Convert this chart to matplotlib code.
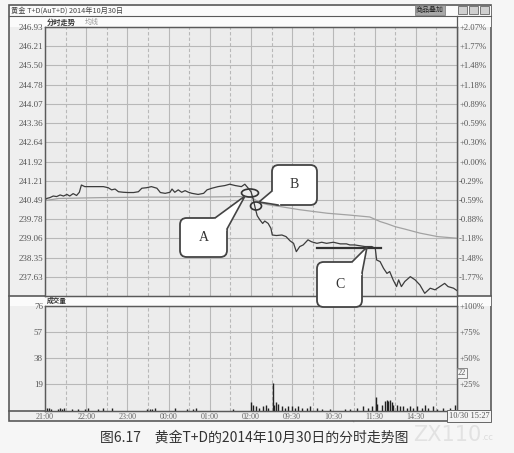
import matplotlib
matplotlib.use('Agg')
import matplotlib.pyplot as plt
from matplotlib.patches import FancyBboxPatch, Ellipse, Polygon, Rectangle
from matplotlib.lines import Line2D
import numpy as np

plt.rcParams['font.family'] = ['Noto Sans CJK SC', 'DejaVu Sans']

# ---------------- data ----------------
# trading minute index from 21:00 (night 21:00-02:30, day 09:00-11:30, 13:30-15:30)
time_ticks = [0, 60, 120, 180, 240, 300, 360, 420, 480, 540]
time_labels = ['21:00', '22:00', '23:00', '00:00', '01:00', '02:00',
               '09:30', '10:30', '11:30', '14:30']

price_ticks = [246.93, 246.21, 245.50, 244.78, 244.07, 243.36, 242.64,
               241.92, 241.21, 240.49, 239.78, 239.06, 238.35, 237.63]
pct_labels = ['+2.07%', '+1.77%', '+1.48%', '+1.18%', '+0.89%', '+0.59%', '+0.30%',
              '+0.00%', '-0.29%', '-0.59%', '-0.88%', '-1.18%', '-1.48%', '-1.77%']
price_min, price_max = 236.92, 246.93

price_t = [0, 2.5, 7, 12, 17, 22, 27, 32, 36, 41, 46, 50, 53, 58, 66, 75, 85, 92, 97,
           102, 107, 114, 121, 129, 136, 141, 148, 155, 163, 168, 175, 182, 185, 189,
           194, 199, 204, 209, 214, 223, 231, 236, 243, 252, 262, 269, 277, 286, 291,
           296, 300, 303, 306, 309, 313, 317, 320, 325, 329, 331, 337, 345, 351, 357,
           362, 366, 371, 376, 383, 388, 396, 403, 410, 420, 430, 439, 444, 451, 466,
           476, 481, 483, 488, 493, 498, 502, 507, 512, 515, 519, 524, 532, 539, 546,
           553, 561, 568, 575, 582, 587, 595, 600]
price_v = [240.50, 240.55, 240.58, 240.64, 240.62, 240.68, 240.64, 240.70, 240.64,
           240.73, 240.66, 240.78, 241.05, 240.99, 240.99, 240.99, 240.99, 240.95,
           240.87, 240.90, 240.80, 240.78, 240.77, 240.77, 240.80, 240.93, 240.95,
           240.99, 240.93, 240.77, 240.74, 240.78, 240.90, 240.78, 240.87, 240.78,
           240.84, 240.78, 240.74, 240.70, 240.74, 240.87, 240.93, 240.99, 241.03,
           241.08, 241.03, 240.99, 241.08, 240.93, 240.80, 240.55, 240.21, 239.91,
           239.75, 239.62, 239.71, 239.62, 239.44, 239.19, 239.17, 239.19, 239.13,
           238.97, 238.88, 238.57, 238.76, 238.82, 239.01, 238.94, 238.88, 238.92,
           238.88, 238.92, 238.86, 238.86, 238.82, 238.82, 238.76, 238.76, 238.69,
           238.26, 238.20, 237.95, 237.76, 237.83, 237.52, 237.27, 237.52, 237.27,
           237.46, 237.64, 237.52, 237.33, 237.02, 237.21, 237.15, 237.27, 237.39,
           237.27, 237.21, 237.12]

avg_t = [0, 20, 80, 150, 220, 290, 300, 306, 313, 324, 342, 371, 411, 444, 473,
         488, 498, 510, 524, 546, 572, 600]
avg_v = [240.47, 240.55, 240.58, 240.60, 240.60, 240.62, 240.60, 240.50, 240.40,
         240.32, 240.25, 240.13, 240.00, 239.93, 239.86, 239.69, 239.61, 239.50,
         239.41, 239.26, 239.13, 239.07]

c_line_t = [396, 490]
c_line_v = [238.72, 238.72]

vol_ticks = [19, 38, 57, 76]
vol_left_labels = ['19', '38', '57', '76']
vol_right_labels = ['+25%', '+50%', '+75%', '+100%']
vol_t = [3, 6, 9, 19, 22, 25, 28, 39, 48, 58, 63, 77, 84, 98, 149, 153, 156, 160,
         189, 207, 216, 220, 274, 300, 303, 307, 312, 317, 322, 325, 331.6, 333.5,
         336, 339, 345, 350, 354, 360, 364, 368, 374, 381, 386, 396, 403, 415, 437,
         444, 454, 463, 470, 476, 482, 483, 491, 495, 498, 500, 502, 505, 507, 513,
         517, 521, 527, 532, 536, 542, 549, 553, 558, 565, 571, 580, 590, 597]
vol_v = [2, 2, 1, 1, 2, 1, 2, 1, 1, 1, 2, 1, 2, 2, 1, 1, 1, 2,
         2, 1, 1, 2, 1, 6, 4, 3, 2, 3, 4, 2, 20, 4,
         6, 5, 3, 2, 3, 3, 2, 3, 2, 2, 3, 2, 1, 1, 1,
         1, 2, 3, 2, 3, 10, 5, 4, 7, 8, 7, 8, 6, 4, 4,
         3, 3, 2, 3, 2, 3, 2, 4, 2, 3, 1, 2, 2, 4]

# ---------------- figure ----------------
W, H = 514, 453
fig = plt.figure(figsize=(W / 100, H / 100), dpi=100)
fig.patch.set_facecolor('#f6f6f6')


def fx(x):
    return x / W


def fy(y):
    return 1 - y / H


FR = '#5a5a5a'
GRID = '#b8b8b8'
TXT = '#555555'
SERIF = ['Liberation Serif', 'DejaVu Serif']

# outer chart frame
fig.patches.append(Rectangle((fx(9), fy(421)), fx(491) - fx(9), fy(5) - fy(421),
                             transform=fig.transFigure, fc='#efefef', ec=FR, lw=1.2, zorder=-2))
# title band and header bands
for (ya, yb) in [(5.5, 15.5), (16, 27), (296, 306)]:
    fig.patches.append(Rectangle((fx(9.5), fy(yb)), fx(490.5) - fx(9.5), fy(ya) - fy(yb),
                                 transform=fig.transFigure, fc='#fbfbfb', ec='none', zorder=-1))
for yy, lw in [(15.8, 0.8), (296, 1.2), (410.5, 1.2)]:
    fig.lines.append(Line2D([fx(9), fx(491)], [fy(yy), fy(yy)], transform=fig.transFigure,
                            color=FR, lw=lw, zorder=-0.5))
fig.lines.append(Line2D([fx(457), fx(457)], [fy(16), fy(410.5)], transform=fig.transFigure,
                        color=FR, lw=0.9, zorder=-0.5))

fig.text(fx(11), fy(10.5), '黄金 T+D(AuT+D) 2014年10月30日', fontsize=5.2, color='#444',
         va='center', ha='left')
fig.text(fx(47), fy(22), '分时走势', fontsize=5.2, color='#333', va='center', ha='left',
         fontweight='bold')
fig.text(fx(85), fy(22), '均线', fontsize=5, color='#999', va='center', ha='left')
fig.text(fx(47), fy(300.5), '成交量', fontsize=4.8, color='#333', va='center', ha='left',
         fontweight='bold')
fig.text(fx(430), fy(10), '商品叠加', fontsize=5, color='#222', va='center', ha='center',
         bbox=dict(boxstyle='square,pad=0.15', fc='#a8a8a8', ec='#777', lw=0.5))
for i in range(3):
    fig.patches.append(Rectangle((fx(458 + i * 11), fy(14)), fx(9), fy(6) - fy(14),
                                 transform=fig.transFigure, fc='#d0d0d0', ec='#666', lw=0.6))

# ---------------- price axes ----------------
ax = fig.add_axes([fx(45), fy(296), 412 / W, 269 / H])
ax.set_zorder(1)
ax.set_facecolor('#ececec')
ax.set_xlim(0, 600)
ax.set_ylim(price_min, price_max)
for t in range(30, 600, 30):
    ax.axvline(t, color=GRID, lw=0.8, ls='-' if t % 60 == 0 else (0, (3, 2)), zorder=1)
for p in price_ticks:
    ax.axhline(p, color=GRID, lw=0.8, zorder=1)
ax.plot(avg_t, avg_v, color='#a2a2a2', lw=0.9, zorder=3)
ax.plot(price_t, price_v, color='#3c3c3c', lw=0.9, zorder=4)
ax.plot(c_line_t, c_line_v, color='#333333', lw=1.6, zorder=5)
ax.set_xticks([])
ax.set_yticks(price_ticks)
ax.set_yticklabels([f'{p:.2f}' for p in price_ticks], fontsize=6.5, color=TXT,
                   family=SERIF)
ax.tick_params(axis='y', length=0, pad=1.5)
axr = ax.twinx()
axr.set_zorder(1.1)
axr.patch.set_visible(False)
axr.set_ylim(price_min, price_max)
axr.set_yticks(price_ticks)
axr.set_yticklabels(pct_labels, fontsize=6.2, color=TXT, family=SERIF)
axr.tick_params(axis='y', length=0, pad=1.5)
for a in (ax, axr):
    for s in a.spines.values():
        s.set_color(FR)
        s.set_linewidth(0.9)

# ---------------- volume axes ----------------
av = fig.add_axes([fx(45), fy(410.5), 412 / W, 104.5 / H])
av.set_zorder(1)
av.set_facecolor('#ececec')
av.set_xlim(0, 600)
av.set_ylim(0, 76)
for t in range(30, 600, 30):
    av.axvline(t, color=GRID, lw=0.8, ls='-' if t % 60 == 0 else (0, (3, 2)), zorder=1)
for v in vol_ticks:
    av.axhline(v, color=GRID, lw=0.8, zorder=1)
av.vlines(vol_t, 0, vol_v, color='#222222', lw=1.0, zorder=3)
av.set_yticks(vol_ticks)
av.set_yticklabels(vol_left_labels, fontsize=6.5, color=TXT, family=SERIF)
av.set_xticks(time_ticks)
av.set_xticklabels(time_labels, fontsize=5.8, color='#666', family=SERIF)
av.tick_params(axis='both', length=0, pad=1.5)
avr = av.twinx()
avr.set_zorder(1.1)
avr.patch.set_visible(False)
avr.set_ylim(0, 76)
avr.set_yticks(vol_ticks)
avr.set_yticklabels(vol_right_labels, fontsize=6.2, color=TXT, family=SERIF)
avr.tick_params(axis='y', length=0, pad=1.5)
for a in (av, avr):
    for s in a.spines.values():
        s.set_color(FR)
        s.set_linewidth(0.9)
av.text(451, -3.5, '、', fontsize=5, color='#666', ha='center', va='top')

fig.text(fx(462), fy(373), '22', fontsize=6, color='#555', ha='center', va='center',
         family=SERIF, bbox=dict(boxstyle='square,pad=0.15', fc='#f4f4f4', ec='#777', lw=0.6))
fig.text(fx(469), fy(416), '10/30 15:27', fontsize=6, color='#555', ha='center', va='center',
         family=SERIF, bbox=dict(boxstyle='square,pad=0.2', fc='#f4f4f4', ec='#666', lw=0.7))

# ---------------- callouts ----------------
EC = '#444444'


def bubble(x0, y0, x1, y1, b1, b2, tip, label):
    box = FancyBboxPatch((fx(x0), fy(y1)), fx(x1) - fx(x0), fy(y0) - fy(y1),
                         boxstyle='round,pad=0,rounding_size=0.013',
                         mutation_aspect=W / H,
                         transform=fig.transFigure, fc='white', ec=EC, lw=1.3, zorder=10)
    fig.patches.append(box)
    pts = []
    for b in (b1, b2):
        d = np.array(b) - np.array(tip)
        d = d / np.hypot(*d)
        pts.append(np.array(b) + d * 2.5)
    poly = [pts[0], b1, tip, b2, pts[1]]
    fig.patches.append(Polygon([(fx(p[0]), fy(p[1])) for p in poly], closed=True,
                               transform=fig.transFigure, fc='white', ec='none', zorder=11))
    fig.lines.append(Line2D([fx(b1[0]), fx(tip[0]), fx(b2[0])],
                            [fy(b1[1]), fy(tip[1]), fy(b2[1])], transform=fig.transFigure,
                            color=EC, lw=1.2, zorder=12, solid_joinstyle='miter'))
    fig.text(fx((x0 + x1) / 2), fy((y0 + y1) / 2), label, fontsize=10, color='#333',
             ha='center', va='center', family=SERIF, zorder=13)


bubble(180, 218, 227, 257, (215, 218), (227, 229), (245, 196), 'A')
bubble(272, 165, 317, 205, (272, 191), (278, 205), (259, 202), 'B')
bubble(317, 262, 362, 307, (352, 262), (362, 273), (367, 247), 'C')

for (cx, cy, w, h) in [(250, 193, 17, 8), (256, 206, 11, 8)]:
    fig.patches.append(Ellipse((fx(cx), fy(cy)), w / W, h / H, transform=fig.transFigure,
                               fc='none', ec='#333', lw=1.2, zorder=9))

# ---------------- caption ----------------
fig.text(fx(254), fy(438), '图6.17　黄金T+D的2014年10月30日的分时走势图', fontsize=10,
         color='#333', ha='center', va='center')
fig.text(fx(447), fy(435), 'ZX110', fontsize=15, color='#e2e2e2', ha='center', va='center',
         family=['DejaVu Sans'])
fig.text(fx(487), fy(438), '.cc', fontsize=6, color='#dcdcdc', ha='center', va='center',
         family=['DejaVu Sans'])

fig.savefig('out.png', dpi=100, facecolor=fig.get_facecolor())
